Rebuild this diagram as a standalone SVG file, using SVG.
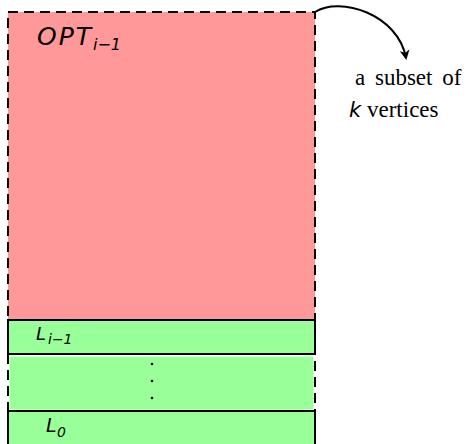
<svg xmlns="http://www.w3.org/2000/svg" width="472" height="444" viewBox="0 0 472 444">
  <defs>
    <style>
      .red { fill: #ff9999; }
      .green { fill: #99ff99; stroke: #fff; stroke-width: 1; }
      .box { fill: #99ff99; stroke: #000; stroke-width: 2; }
      .dashed { fill: none; stroke: #000; stroke-width: 2; stroke-dasharray: 10 6; }
      .math { font-family: "DejaVu Sans", "Liberation Sans", sans-serif; font-style: italic; fill: #000; }
      .roman { font-family: "Liberation Serif", "Times New Roman", serif; font-style: normal; fill: #000; }
      .link { fill: none; stroke: #000; stroke-width: 2; }
    </style>
    <marker id="head" viewBox="0 0 10 10" refX="8" refY="5" markerWidth="5" markerHeight="5" orient="auto" markerUnits="strokeWidth">
      <path d="M0,0 L10,5 L0,10 L3,5 Z" fill="#000"/>
    </marker>
  </defs>

  <!-- previous optimum region -->
  <g id="opt">
    <rect class="red" x="8" y="12" width="307" height="307"/>
    <text class="math" x="37" y="45" font-size="25" letter-spacing="2">OPT</text>
    <text class="math" x="93" y="50" font-size="16">i−1</text>
  </g>

  <!-- layer L_{i-1} -->
  <g id="layer-i-1">
    <rect class="box" x="8" y="320" width="307" height="34"/>
    <text class="math" x="36" y="340" font-size="18">L</text>
    <text class="math" x="48" y="344" font-size="14">i−1</text>
  </g>

  <!-- intermediate layers -->
  <g id="layers-mid">
    <rect class="green" x="9" y="356" width="305" height="54"/>
    <circle cx="152" cy="364" r="1.3"/>
    <circle cx="152" cy="381" r="1.3"/>
    <circle cx="152" cy="398" r="1.3"/>
  </g>

  <!-- layer L_0 -->
  <g id="layer-0">
    <rect class="box" x="8" y="411" width="307" height="40"/>
    <text class="math" x="46" y="432" font-size="19">L</text>
    <text class="math" x="57" y="437" font-size="14">0</text>
  </g>

  <!-- dashed outline of the k-vertex subset -->
  <g id="subset">
    <path class="dashed" d="M8,460 V12 H315 V460"/>
  </g>

  <g id="connectors">
    <path class="link" d="M315,12 C340,-4 398,14 406,58" marker-end="url(#head)"/>
  </g>

  <g id="label">
    <text class="roman" x="355" y="85" font-size="23" word-spacing="4">a subset of</text>
    <text class="math" x="349" y="117" font-size="21">k</text>
    <text class="roman" x="367" y="117" font-size="23">vertices</text>
  </g>
</svg>
